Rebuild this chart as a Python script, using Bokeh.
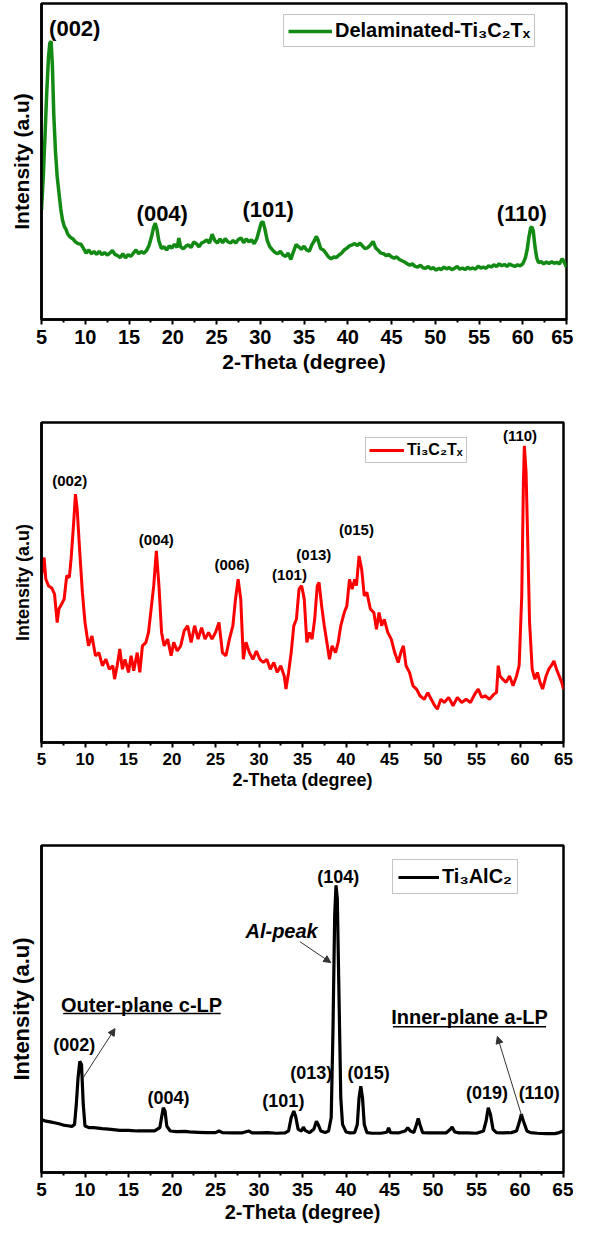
from bokeh.plotting import figure
from bokeh.layouts import column
from bokeh.models import Range1d, FixedTicker, Arrow, NormalHead
from bokeh.core.properties import value
from bokeh.embed import file_html
from bokeh.resources import INLINE

FONT = "Liberation Sans"

# ---------------- data ----------------
x_ticks = [5, 10, 15, 20, 25, 30, 35, 40, 45, 50, 55, 60, 65]
x_minor = [7.5, 12.5, 17.5, 22.5, 27.5, 32.5, 37.5, 42.5, 47.5, 52.5, 57.5, 62.5]

# Panel 1: Delaminated Ti3C2Tx (green)
d_theta = [5.0, 5.2, 5.4, 5.6, 5.8, 5.95, 6.1, 6.25, 6.4, 6.6,
           6.8, 7.0, 7.2, 7.4, 7.6, 7.8, 8.0, 8.3, 8.6, 8.9,
           9.2, 9.5, 9.8, 10.1, 10.4, 10.7, 11.0, 11.3, 11.6, 11.9,
           12.2, 12.5, 12.8, 13.1, 13.4, 13.7, 14.0, 14.3, 14.6, 14.9,
           15.2, 15.5, 15.8, 16.1, 16.4, 16.7, 17.0, 17.3, 17.6, 17.8,
           18.0, 18.2, 18.4, 18.7, 19.0, 19.3, 19.6, 19.9, 20.2, 20.5,
           20.7, 20.9, 21.2, 21.5, 21.8, 22.1, 22.4, 22.7, 23.0, 23.3,
           23.6, 23.9, 24.2, 24.5, 24.8, 25.1, 25.4, 25.7, 26.0, 26.3,
           26.6, 26.9, 27.2, 27.5, 27.8, 28.1, 28.4, 28.7, 29.0, 29.3,
           29.6, 29.9, 30.1, 30.3, 30.5, 30.8, 31.1, 31.4, 31.7, 32.0,
           32.3, 32.6, 32.9, 33.2, 33.5, 33.8, 34.1, 34.4, 34.7, 35.0,
           35.3, 35.6, 35.9, 36.2, 36.4, 36.6, 36.9, 37.2, 37.5, 37.8,
           38.1, 38.4, 38.7, 39.0, 39.3, 39.6, 39.9, 40.2, 40.5, 40.8,
           41.1, 41.4, 41.7, 42.0, 42.3, 42.6, 42.9, 43.2, 43.5, 43.8,
           44.1, 44.4, 44.7, 45.0, 45.3, 45.6, 45.9, 46.2, 46.5, 46.8,
           47.1, 47.4, 47.7, 48.0, 48.3, 48.6, 48.9, 49.2, 49.5, 49.8,
           50.1, 50.4, 50.7, 51.0, 51.3, 51.6, 51.9, 52.2, 52.5, 52.8,
           53.1, 53.4, 53.7, 54.0, 54.3, 54.6, 54.9, 55.2, 55.5, 55.8,
           56.1, 56.4, 56.7, 57.0, 57.3, 57.6, 57.9, 58.2, 58.5, 58.8,
           59.1, 59.4, 59.7, 60.0, 60.3, 60.5, 60.7, 60.9, 61.05, 61.2,
           61.4, 61.6, 61.8, 62.1, 62.4, 62.7, 63.0, 63.3, 63.6, 63.9,
           64.2, 64.5, 64.7, 65.0]
d_int = [34.7, 45.0, 58.0, 72.0, 83.0, 87.5, 88.0, 80.0, 65.0, 53.0,
         45.0, 40.0, 35.0, 31.5, 29.5, 28.5, 27.0, 26.0, 25.5, 24.5,
         24.0, 23.8, 22.5, 21.0, 22.0, 20.8, 21.5, 20.6, 21.6, 20.5,
         21.2, 20.4, 21.0, 21.8, 20.6, 20.2, 19.6, 20.8, 19.5, 20.5,
         20.0, 21.0, 22.0, 20.8, 21.5, 21.0, 21.8, 23.5, 26.5, 29.0,
         30.5, 28.5, 25.0, 22.5, 23.0, 22.0, 23.3, 22.6, 23.8, 22.8,
         25.8, 23.0, 22.4, 23.2, 23.6, 22.8, 24.5, 24.0, 23.0, 24.2,
         24.6, 25.2, 24.2, 27.0, 25.0, 24.2, 25.5, 24.3, 25.6, 24.6,
         24.2, 25.0, 24.2, 25.3, 25.8, 24.3, 25.5, 24.6, 25.2, 24.0,
         25.5, 28.5, 30.5, 31.0, 29.0, 25.0, 23.0, 22.0, 21.2, 20.8,
         21.6, 20.4, 20.0, 21.0, 19.0, 21.5, 23.7, 23.0, 22.2, 23.2,
         22.0, 21.6, 23.6, 25.0, 26.3, 25.2, 22.5, 22.0, 21.0, 19.8,
         19.2, 19.8, 19.6, 20.4, 21.0, 22.0, 22.6, 23.3, 23.6, 24.0,
         23.4, 24.2, 23.2, 22.4, 22.8, 23.6, 24.7, 22.6, 21.8, 21.0,
         20.8, 20.2, 20.6, 19.8, 19.4, 19.8, 19.0, 18.6, 18.2, 17.6,
         17.2, 17.6, 16.8, 16.6, 17.2, 16.4, 16.2, 16.8, 16.0, 16.4,
         15.6, 16.2, 15.8, 16.6, 16.0, 16.4, 15.8, 16.2, 16.8, 15.9,
         16.3, 15.8, 16.5, 16.0, 16.3, 15.9, 16.9, 16.3, 16.6, 16.2,
         17.0, 16.6, 17.3, 16.8, 17.6, 17.0, 17.4, 16.8, 17.6, 17.1,
         16.8, 17.3, 17.0, 17.6, 19.5, 22.0, 26.0, 29.0, 29.3, 28.0,
         23.0, 19.5, 18.0, 18.3, 17.6, 18.2, 17.7, 18.3, 17.8, 18.1,
         17.6, 19.2, 18.4, 16.5]

# Panel 2: Ti3C2Tx (red)
m_theta = [5.0, 5.3, 5.5, 5.8, 6.2, 6.5, 6.8, 7.0, 7.3, 7.6,
           7.9, 8.2, 8.4, 8.7, 8.9, 9.1, 9.4, 9.7, 10.0, 10.4,
           10.8, 11.2, 11.6, 12.0, 12.4, 12.8, 13.2, 13.4, 13.7, 14.0,
           14.3, 14.6, 15.0, 15.3, 15.6, 16.0, 16.3, 16.6, 17.0, 17.3,
           17.6, 17.9, 18.2, 18.5, 18.8, 19.1, 19.5, 19.9, 20.2, 20.6,
           21.0, 21.4, 21.8, 22.2, 22.6, 23.0, 23.4, 23.8, 24.2, 24.6,
           25.0, 25.4, 25.8, 26.2, 26.6, 27.0, 27.3, 27.6, 27.9, 28.2,
           28.5, 28.9, 29.3, 29.7, 30.1, 30.5, 30.9, 31.3, 31.7, 32.1,
           32.5, 32.9, 33.1, 33.4, 33.7, 34.0, 34.3, 34.6, 34.9, 35.2,
           35.5, 35.8, 36.1, 36.4, 36.7, 36.9, 37.2, 37.5, 37.8, 38.1,
           38.4, 38.8, 39.1, 39.4, 39.8, 40.1, 40.4, 40.7, 41.0, 41.2,
           41.5, 41.8, 42.1, 42.4, 42.8, 43.2, 43.5, 43.8, 44.1, 44.4,
           44.8, 45.2, 45.6, 46.0, 46.3, 46.6, 46.9, 47.3, 47.7, 48.1,
           48.5, 49.0, 49.4, 49.8, 50.2, 50.5, 50.9, 51.3, 51.8, 52.3,
           52.8, 53.3, 53.8, 54.3, 54.8, 55.2, 55.6, 56.0, 56.5, 57.0,
           57.3, 57.5, 57.7, 58.0, 58.4, 58.8, 59.2, 59.6, 59.9, 60.2,
           60.4, 60.5, 60.7, 60.9, 61.1, 61.4, 61.7, 62.0, 62.3, 62.6,
           63.0, 63.3, 63.6, 63.9, 64.2, 64.5, 64.8, 65.0]
m_int = [52.1, 57.8, 51.0, 49.0, 48.2, 46.4, 37.5, 41.7, 43.2, 44.8,
         52.1, 51.6, 57.3, 68.8, 77.6, 72.9, 59.4, 46.9, 37.5, 30.2,
         33.3, 27.1, 28.1, 24.0, 26.0, 22.9, 24.0, 19.8, 24.0, 29.2,
         22.9, 26.0, 21.9, 27.1, 22.4, 28.1, 21.9, 30.2, 31.3, 34.4,
         41.7, 49.0, 59.9, 49.0, 34.4, 30.2, 32.3, 27.1, 31.3, 28.6,
         30.2, 34.9, 36.5, 31.3, 36.5, 32.3, 35.9, 32.3, 34.4, 32.3,
         34.4, 37.5, 28.1, 27.1, 32.3, 36.5, 44.8, 51.0, 44.8, 26.0,
         31.3, 28.1, 26.0, 28.6, 26.0, 25.0, 26.0, 22.9, 25.0, 21.9,
         24.0, 20.8, 16.7, 21.9, 28.1, 36.5, 38.5, 47.9, 49.0, 44.8,
         31.3, 34.4, 32.3, 38.5, 49.0, 50.0, 42.7, 36.5, 31.3, 26.0,
         30.2, 28.1, 31.3, 36.5, 40.6, 42.7, 51.0, 47.9, 51.0, 49.0,
         58.3, 54.2, 45.8, 46.9, 41.7, 40.6, 35.4, 40.6, 36.5, 38.5,
         34.4, 32.3, 28.1, 25.0, 28.1, 30.2, 24.0, 21.9, 17.7, 16.7,
         14.6, 13.5, 15.6, 13.5, 11.5, 10.4, 13.5, 12.5, 14.1, 11.5,
         14.1, 12.5, 13.5, 12.5, 15.1, 16.7, 14.1, 14.6, 13.5, 15.1,
         15.6, 24.0, 20.8, 19.8, 18.8, 20.8, 17.7, 20.8, 24.0, 45.8,
         82.3, 92.7, 84.4, 61.5, 37.5, 22.9, 19.8, 21.9, 18.8, 16.7,
         20.8, 22.9, 24.0, 25.5, 22.9, 20.8, 18.8, 16.7]

# Panel 3: Ti3AlC2 (black)
a_theta = [5.0, 5.5, 6.0, 6.5, 7.0, 7.5, 8.0, 8.5, 8.8, 9.0,
           9.2, 9.4, 9.6, 9.8, 10.0, 10.5, 11.0, 12.0, 13.0, 14.0,
           15.0, 16.0, 17.0, 18.0, 18.6, 18.8, 19.0, 19.2, 19.4, 19.8,
           20.5, 21.5, 22.0, 23.0, 24.0, 25.0, 25.4, 25.8, 27.0, 28.0,
           28.8, 29.2, 30.0, 31.0, 32.0, 33.0, 33.4, 33.7, 34.0, 34.2,
           34.5, 34.9, 35.1, 35.3, 35.8, 36.3, 36.6, 36.8, 37.1, 37.6,
           38.0, 38.3, 38.5, 38.7, 38.85, 39.0, 39.2, 39.4, 39.6, 40.0,
           40.5, 41.0, 41.3, 41.5, 41.7, 41.9, 42.1, 42.4, 43.0, 44.0,
           44.7, 44.9, 45.1, 46.0, 46.8, 47.1, 47.4, 47.8, 48.1, 48.3,
           48.5, 48.8, 49.5, 50.5, 51.5, 52.0, 52.2, 52.5, 53.0, 54.0,
           55.0, 55.8, 56.1, 56.35, 56.6, 56.9, 57.3, 58.0, 59.0, 59.6,
           59.9, 60.15, 60.4, 60.8, 61.2, 62.0, 63.0, 64.0, 64.5, 65.0]
a_int = [16.2, 15.7, 15.5, 15.2, 14.9, 14.5, 14.3, 14.1, 14.7, 20.8,
         28.9, 34.0, 33.0, 20.8, 14.2, 13.7, 13.7, 13.4, 13.2, 12.9,
         12.9, 12.7, 12.7, 12.7, 13.7, 16.8, 19.8, 18.8, 14.2, 12.7,
         12.5, 12.6, 12.4, 12.3, 12.2, 12.2, 12.7, 12.2, 12.1, 12.1,
         12.7, 12.1, 12.1, 12.2, 12.0, 12.1, 12.7, 16.8, 18.8, 17.3,
         13.2, 12.7, 13.9, 12.9, 12.2, 13.2, 15.7, 14.7, 12.7, 12.2,
         12.7, 16.8, 43.1, 78.7, 87.8, 83.8, 53.3, 22.8, 14.7, 12.4,
         12.1, 12.2, 14.7, 22.8, 26.4, 22.8, 14.7, 12.2, 12.0, 12.0,
         12.3, 13.7, 12.2, 12.1, 12.7, 13.7, 12.7, 12.2, 14.7, 16.5,
         14.7, 12.2, 12.1, 12.1, 12.1, 13.2, 13.9, 12.4, 12.1, 12.1,
         12.0, 12.7, 15.7, 19.8, 17.8, 13.2, 12.2, 12.1, 12.2, 12.7,
         15.2, 17.8, 15.7, 12.7, 12.2, 12.0, 11.9, 11.9, 12.2, 12.7]

# peak labels
p1_labels = ["(002)", "(004)", "(101)", "(110)"]
p1_lab_x = [8.8, 18.8, 30.9, 59.9]
p1_lab_y = [92.0, 33.7, 34.7, 33.5]

p2_labels = ["(002)", "(004)", "(006)", "(101)", "(013)", "(015)", "(110)"]
p2_lab_x = [8.24, 18.2, 26.9, 33.5, 36.3, 41.2, 60.0]
p2_lab_y = [81.8, 63.5, 55.7, 52.6, 58.9, 66.7, 95.8]

p3_labels = ["(104)", "(002)", "(004)", "(101)", "(013)", "(015)", "(019)", "(110)"]
p3_lab_x = [39.1, 8.77, 19.6, 32.8, 36.0, 42.6, 56.2, 62.2]
p3_lab_y = [90.4, 39.1, 22.8, 21.8, 30.5, 30.5, 24.4, 24.4]

p3_notes = ["Outer-plane c-LP", "Inner-plane a-LP"]
p3_note_x = [16.5, 54.2]
p3_note_y = [51.3, 47.6]
p3_ul_x0 = [7.5, 45.4]
p3_ul_x1 = [25.6, 63.0]
p3_ul_y = [48.6, 44.6]

alpeak_x = [32.6]
alpeak_y = [73.8]

arrow_x0 = [34.7, 9.77, 60.2]
arrow_y0 = [70.6, 28.9, 17.3]
arrow_x1 = [38.25, 13.45, 57.4]
arrow_y1 = [64.2, 44.0, 41.6]


def make_fig(fw, fh, left, top, bottom, tick_px, xt_px, yt_px, lab_std, ax_std, yl_std):
    p = figure(frame_width=fw, frame_height=fh,
               x_range=Range1d(5, 65), y_range=Range1d(0, 100),
               output_backend="svg", toolbar_location=None,
               min_border_left=left, min_border_right=10,
               min_border_top=top, min_border_bottom=bottom,
               background_fill_color="white", border_fill_color="white")
    p.xgrid.grid_line_color = None
    p.ygrid.grid_line_color = None
    p.outline_line_color = "black"
    p.outline_line_width = 2.5
    p.outline_line_alpha = 1.0

    xa = p.xaxis[0]
    xa.ticker = FixedTicker(ticks=x_ticks, minor_ticks=x_minor)
    xa.axis_line_width = 2.5
    xa.major_tick_line_width = 2
    xa.minor_tick_line_width = 2
    xa.major_tick_out = 5
    xa.major_tick_in = 0
    xa.minor_tick_out = 3
    xa.minor_tick_in = 0
    xa.major_label_standoff = lab_std
    xa.major_label_text_font = FONT
    xa.major_label_text_font_style = "bold"
    xa.major_label_text_font_size = f"{tick_px}px"
    xa.major_label_text_color = "black"
    xa.axis_label = "2-Theta (degree)"
    xa.axis_label_text_font = FONT
    xa.axis_label_text_font_style = "bold"
    xa.axis_label_text_font_size = f"{xt_px}px"
    xa.axis_label_standoff = ax_std
    xa.axis_label_text_color = "black"

    ya = p.yaxis[0]
    ya.ticker = FixedTicker(ticks=[])
    ya.axis_line_width = 2.5
    ya.major_tick_out = 0
    ya.major_tick_in = 0
    ya.minor_tick_out = 0
    ya.minor_tick_in = 0
    ya.major_label_standoff = 0
    ya.axis_label = "Intensity (a.u)"
    ya.axis_label_text_font = FONT
    ya.axis_label_text_font_style = "bold"
    ya.axis_label_text_font_size = f"{yt_px}px"
    ya.axis_label_standoff = yl_std
    ya.axis_label_text_color = "black"
    return p


def style_legend(p, loc, font_px, glyph_w, pad):
    lg = p.legend[0]
    lg.location = loc
    lg.label_text_font = FONT
    lg.label_text_font_style = "bold"
    lg.label_text_font_size = f"{font_px}px"
    lg.label_text_color = "black"
    lg.glyph_width = glyph_w
    lg.glyph_height = font_px
    lg.label_standoff = 3
    lg.padding = pad
    lg.margin = 0
    lg.spacing = 0
    lg.border_line_color = "#8a8a8a"
    lg.border_line_width = 1
    lg.background_fill_color = "white"
    lg.background_fill_alpha = 1.0


def add_labels(p, xs, ys, texts, px, style="bold"):
    p.text(x=xs, y=ys, text=texts, text_align="center", text_baseline="middle",
           text_font=value(FONT), text_font_style=style,
           text_font_size=f"{px}px", text_color="black")


# ---------------- panel 1 ----------------
p1 = make_fig(525, 316, 38, 3, 78, 20, 21, 21, 5, 3, 9)
p1.line(d_theta, d_int, line_color="#138a13", line_width=3.5,
        legend_label="Delaminated-Ti\u2083C\u2082T\u2093")
add_labels(p1, p1_lab_x, p1_lab_y, p1_labels, 22)
style_legend(p1, (242, 272), 20, 44, 4)

# ---------------- panel 2 ----------------
p2 = make_fig(522, 320, 41, 25, 70, 17, 18, 18, 5, 2, 9)
p2.line(m_theta, m_int, line_color="#ff0000", line_width=3,
        legend_label="Ti\u2083C\u2082T\u2093")
add_labels(p2, p2_lab_x, p2_lab_y, p2_labels, 15)
style_legend(p2, (324, 279), 16, 35, 3)

# ---------------- panel 3 ----------------
p3 = make_fig(522, 327, 41, 33, 58, 19, 20, 22, 5, 2, 8)
p3.line(a_theta, a_int, line_color="black", line_width=3.2,
        legend_label="Ti\u2083AlC\u2082")
add_labels(p3, p3_lab_x, p3_lab_y, p3_labels, 18)
add_labels(p3, p3_note_x, p3_note_y, p3_notes, 20)
p3.segment(x0=p3_ul_x0, y0=p3_ul_y, x1=p3_ul_x1, y1=p3_ul_y,
           line_color="black", line_width=1.5)
add_labels(p3, alpeak_x, alpeak_y, ["Al-peak"], 20, style="bold italic")
for xs, ys, xe, ye in zip(arrow_x0, arrow_y0, arrow_x1, arrow_y1):
    p3.add_layout(Arrow(end=NormalHead(size=7, fill_color="#333333", line_color="#333333", line_width=1),
                        x_start=xs, y_start=ys, x_end=xe, y_end=ye,
                        line_color="#333333", line_width=1))
style_legend(p3, (351, 278), 20, 41, 5)

layout = column(p1, p2, p3)
open("out.html", "w").write(file_html(layout, INLINE))
